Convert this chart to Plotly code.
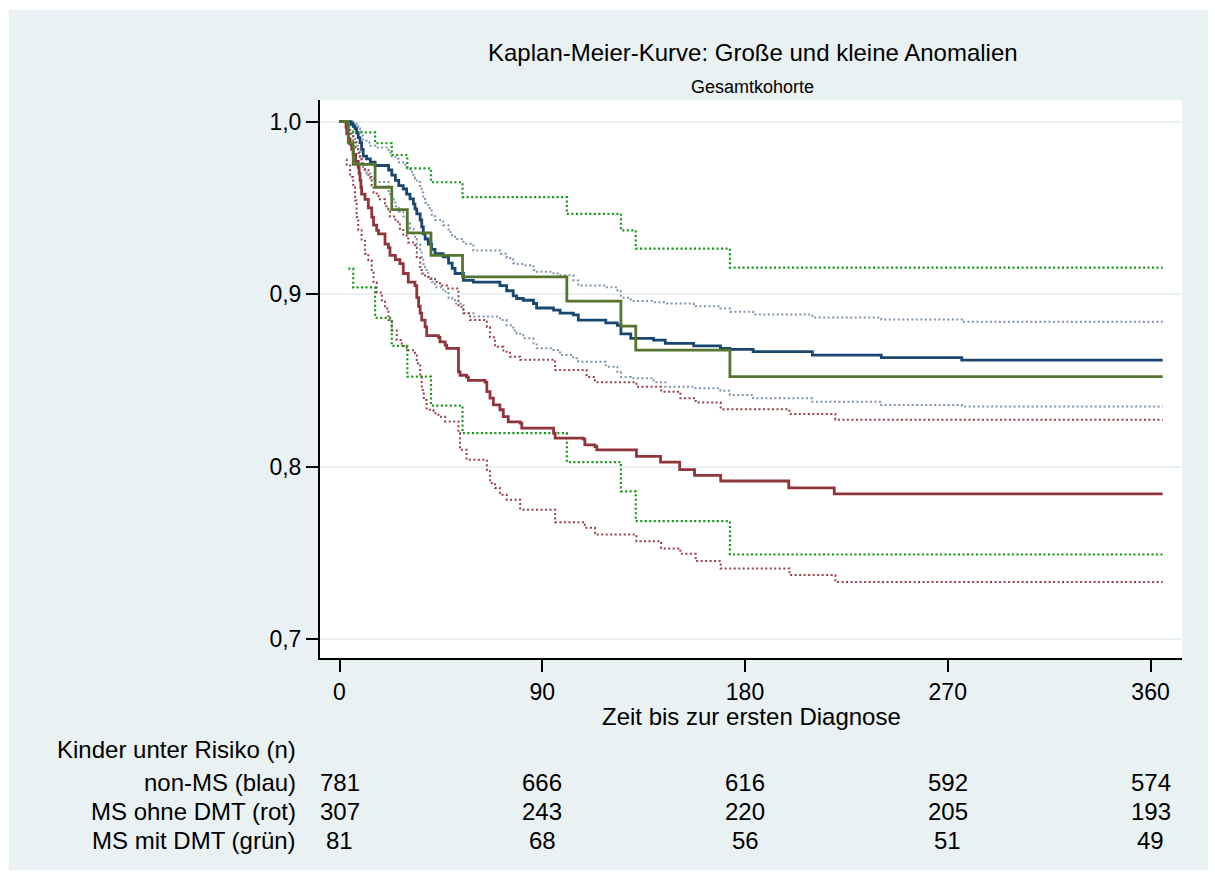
import plotly.graph_objects as go

# ---------------- data ----------------
title_text = "Kaplan-Meier-Kurve: Große und kleine Anomalien"
subtitle_text = "Gesamtkohorte"
x_title = "Zeit bis zur ersten Diagnose"

x_ticks = [0, 90, 180, 270, 360]
y_ticks = [0.7, 0.8, 0.9, 1.0]
y_ticklabels = ["0,7", "0,8", "0,9", "1,0"]

# non-MS (blau)
blue_t = [0, 5.2, 6.1, 6.9, 7.6, 8.3, 9.1, 9.8, 10.5, 12.0, 13.7, 15.8, 21.8, 23.2, 24.8, 26.3,
          28.3, 29.8, 31.3, 32.8, 33.5, 34.3, 35.8, 36.5, 37.2, 38.0, 39.4, 40.9, 42.4, 46.0,
          48.4, 50.0, 51.3, 55.0, 59.4, 71.2, 74.2, 77.1, 78.6, 81.6, 86.1, 87.5, 95.0, 97.9,
          103.8, 106.0, 118.2, 123.3, 124.9, 129.3, 139.4, 144.6, 157.2, 169.1, 173.3, 183.6,
          209.9, 240.5, 276.2, 365.4]
blue_s = [1.0, 0.9987, 0.9974, 0.996, 0.9936, 0.9908, 0.9879, 0.984, 0.980, 0.9784, 0.9765,
          0.9746, 0.972, 0.969, 0.966, 0.963, 0.961, 0.958, 0.9553, 0.9524, 0.9495, 0.9466,
          0.943, 0.939, 0.935, 0.932, 0.929, 0.926, 0.9235, 0.9216, 0.918, 0.915, 0.912, 0.908,
          0.907, 0.905, 0.902, 0.899, 0.8975, 0.8965, 0.8946, 0.892, 0.8908, 0.889, 0.888,
          0.885, 0.8834, 0.882, 0.877, 0.8744, 0.8734, 0.8715, 0.870, 0.8686, 0.868, 0.8667,
          0.8647, 0.8632, 0.8618, 0.8618]
blue_up_t = [0, 5.2, 6.1, 6.9, 7.6, 8.3, 9.1, 9.8, 10.5, 12.0, 13.7, 15.8, 21.8, 23.2, 24.8,
             26.3, 28.3, 29.8, 31.3, 32.8, 33.5, 34.3, 35.8, 36.5, 37.2, 38.0, 39.4, 40.9, 42.4,
             46.0, 48.4, 50.0, 51.3, 55.0, 59.4, 71.2, 74.2, 77.1, 78.6, 81.6, 86.1, 87.5, 95.0,
             97.9, 103.8, 106.0, 118.2, 123.3, 124.9, 129.3, 139.4, 144.6, 157.2, 169.1, 173.3,
             183.6, 209.9, 240.5, 276.2, 365.4]
blue_up_s = [1.0, 0.9999, 0.9995, 0.9988, 0.9975, 0.996, 0.9945, 0.992, 0.989, 0.988, 0.986,
             0.985, 0.982, 0.980, 0.9785, 0.9765, 0.975, 0.9736, 0.971, 0.969, 0.967, 0.965,
             0.962, 0.959, 0.956, 0.953, 0.950, 0.946, 0.943, 0.940, 0.936, 0.934, 0.932,
             0.9293, 0.9254, 0.9235, 0.921, 0.918, 0.9175, 0.9168, 0.914, 0.913, 0.912, 0.911,
             0.908, 0.905, 0.904, 0.9023, 0.898, 0.896, 0.8953, 0.8946, 0.893, 0.8917, 0.8898,
             0.8883, 0.8865, 0.8854, 0.884, 0.884]
blue_lo_t = [5.2, 6.1, 6.9, 7.6, 8.3, 9.1, 9.8, 10.5, 12.0, 13.7, 15.8, 21.8, 23.2, 24.8, 26.3,
             28.3, 29.8, 31.3, 32.8, 33.5, 34.3, 35.8, 36.5, 37.2, 38.0, 39.4, 40.9, 42.4, 46.0,
             48.4, 50.0, 51.3, 55.0, 59.4, 71.2, 74.2, 77.1, 78.6, 81.6, 86.1, 87.5, 95.0, 97.9,
             103.8, 106.0, 118.2, 123.3, 124.9, 129.3, 139.4, 144.6, 157.2, 169.1, 173.3, 183.6,
             209.9, 240.5, 276.2, 365.4]
blue_lo_s = [0.9935, 0.991, 0.989, 0.986, 0.983, 0.9795, 0.976, 0.972, 0.970, 0.967, 0.965,
             0.958, 0.955, 0.951, 0.948, 0.945, 0.942, 0.938, 0.935, 0.932, 0.929, 0.925,
             0.9216, 0.9175, 0.914, 0.910, 0.907, 0.904, 0.9015, 0.898, 0.8965, 0.8946, 0.889,
             0.887, 0.885, 0.882, 0.879, 0.877, 0.8744, 0.8715, 0.8686, 0.8676, 0.8647, 0.8628,
             0.8609, 0.858, 0.855, 0.852, 0.8513, 0.849, 0.8464, 0.8455, 0.844, 0.8416, 0.8397,
             0.8377, 0.8358, 0.8349, 0.8349]

# MS ohne DMT (rot)
red_t = [0, 2.9, 3.2, 4.0, 4.7, 5.4, 6.1, 7.2, 8.3, 8.7, 9.1, 9.5, 9.8, 11.3, 12.8, 14.3, 15.1,
         16.5, 17.3, 20.2, 21.7, 22.4, 24.8, 26.8, 28.3, 30.5, 33.5, 34.3, 35.1, 35.8, 36.5,
         38.0, 38.7, 43.9, 44.6, 46.9, 47.6, 52.8, 53.5, 56.4, 57.2, 64.6, 65.4, 66.8, 68.3,
         71.2, 72.7, 74.9, 80.2, 80.9, 95.0, 95.7, 108.2, 108.9, 113.4, 114.2, 131.8, 142.5,
         151.0, 157.6, 169.2, 199.4, 219.6, 365.4]
red_s = [1.0, 0.9967, 0.9929, 0.990, 0.987, 0.984, 0.981, 0.977, 0.9736, 0.970, 0.966, 0.962,
         0.958, 0.955, 0.950, 0.9447, 0.940, 0.937, 0.935, 0.929, 0.927, 0.9225, 0.920, 0.9177,
         0.912, 0.907, 0.905, 0.898, 0.893, 0.889, 0.885, 0.881, 0.876, 0.875, 0.8724, 0.8705,
         0.8686, 0.855, 0.853, 0.852, 0.850, 0.849, 0.8435, 0.8397, 0.8358, 0.833, 0.829,
         0.826, 0.8253, 0.8224, 0.8195, 0.8166, 0.816, 0.8127, 0.8117, 0.8098, 0.806, 0.8027,
         0.7983, 0.795, 0.7917, 0.7877, 0.7842, 0.7842]
red_up_t = [0, 3.2, 4.0, 4.7, 6.1, 7.2, 8.3, 9.1, 9.8, 11.3, 12.8, 14.3, 15.1, 16.5, 17.3, 20.2,
            21.7, 22.4, 24.8, 26.8, 28.3, 30.5, 33.5, 34.3, 35.8, 36.5, 38.0, 40.2, 42.4, 44.6,
            47.6, 52.8, 55.0, 57.9, 65.4, 66.8, 69.0, 72.7, 75.7, 80.2, 95.7, 109.7, 113.4,
            131.8, 142.8, 151.3, 158.1, 169.2, 199.7, 220.1, 365.4]
red_up_s = [1.0, 0.999, 0.996, 0.993, 0.988, 0.985, 0.982, 0.979, 0.975, 0.972, 0.968, 0.963,
            0.959, 0.957, 0.955, 0.951, 0.949, 0.945, 0.942, 0.938, 0.934, 0.930, 0.927, 0.921,
            0.915, 0.912, 0.910, 0.909, 0.907, 0.905, 0.9033, 0.8927, 0.889, 0.885, 0.881,
            0.875, 0.8695, 0.8667, 0.8638, 0.862, 0.856, 0.852, 0.849, 0.8464, 0.8435, 0.8397,
            0.8372, 0.8333, 0.8306, 0.8272, 0.8272]
red_lo_t = [2.9, 3.2, 4.7, 6.1, 6.9, 7.6, 8.3, 9.8, 11.3, 12.8, 14.3, 15.1, 16.5, 18.8, 20.2,
            21.7, 23.2, 25.4, 27.6, 29.8, 33.5, 34.3, 35.8, 36.5, 37.4, 38.7, 41.7, 43.9, 46.9,
            52.8, 53.5, 56.4, 65.4, 66.8, 69.0, 71.2, 74.2, 80.2, 95.7, 108.9, 113.4, 131.8,
            142.8, 151.3, 158.1, 169.2, 199.7, 220.1, 365.4]
red_lo_s = [0.978, 0.9746, 0.968, 0.962, 0.9543, 0.9447, 0.937, 0.931, 0.9235, 0.9197, 0.914,
            0.907, 0.901, 0.8965, 0.8917, 0.885, 0.879, 0.8734, 0.870, 0.8675, 0.8657, 0.860,
            0.8522, 0.8445, 0.8387, 0.833, 0.831, 0.829, 0.8262, 0.8195, 0.8098, 0.804, 0.7983,
            0.7906, 0.7877, 0.7838, 0.7809, 0.7751, 0.7678, 0.7646, 0.7607, 0.7568, 0.7526,
            0.7495, 0.7453, 0.741, 0.7372, 0.7331, 0.7331]

# MS mit DMT (grün)
green_t = [0, 3.9, 6.1, 15.8, 23.2, 30.1, 40.6, 54.6, 100.9, 124.9, 131.5, 173.3, 365.4]
green_s = [1.0, 0.9877, 0.9753, 0.962, 0.949, 0.9356, 0.9225, 0.910, 0.896, 0.8815, 0.8676,
           0.8522, 0.8522]
green_up_t = [0, 3.9, 6.1, 15.8, 23.2, 30.1, 40.6, 54.6, 100.9, 124.9, 131.5, 173.3, 365.4]
green_up_s = [1.0, 0.998, 0.9938, 0.9875, 0.9807, 0.973, 0.9649, 0.9563, 0.9466, 0.937, 0.9264,
              0.9154, 0.9154]
green_lo_t = [3.9, 6.1, 15.8, 23.2, 30.1, 40.6, 54.6, 100.9, 124.9, 131.5, 173.3, 365.4]
green_lo_s = [0.9148, 0.9039, 0.8863, 0.870, 0.8522, 0.8354, 0.8195, 0.8027, 0.7857, 0.7684,
              0.7491, 0.7491]

# Number at risk
risk_header = "Kinder unter Risiko (n)"
risk_labels = ["non-MS (blau)", "MS ohne DMT (rot)", "MS mit DMT (grün)"]
risk_times = [0, 90, 180, 270, 360]
risk_blue = [781, 666, 616, 592, 574]
risk_red = [307, 243, 220, 205, 193]
risk_green = [81, 68, 56, 51, 49]

# ---------------- styling ----------------
FONT = "Liberation Sans, Arial, sans-serif"
BG = "#e9f1f3"
NAVY = "#1a476f"
MAROON = "#90353b"
FOREST = "#55752f"
CI_BLUE = "#7f94b0"
CI_RED = "#983f47"
CI_GREEN = "#109810"

fig = go.Figure()

def add_line(t, s, color, width, dash):
    fig.add_trace(go.Scatter(x=t, y=s, mode="lines", line_shape="hv",
                             line=dict(color=color, width=width, dash=dash),
                             hoverinfo="skip", showlegend=False))

ci_dash = "2px,2.5px"
add_line(blue_up_t, blue_up_s, CI_BLUE, 2, ci_dash)
add_line(blue_lo_t, blue_lo_s, CI_BLUE, 2, ci_dash)
add_line(red_up_t, red_up_s, CI_RED, 2, ci_dash)
add_line(red_lo_t, red_lo_s, CI_RED, 2, ci_dash)
add_line(green_up_t, green_up_s, CI_GREEN, 2.2, ci_dash)
add_line(green_lo_t, green_lo_s, CI_GREEN, 2.2, ci_dash)
add_line(blue_t, blue_s, NAVY, 2.8, "solid")
add_line(red_t, red_s, MAROON, 2.8, "solid")
add_line(green_t, green_s, FOREST, 2.8, "solid")

W, H = 1215, 878
ML, MR, MT, MB = 320, 33, 100, 220
PW, PH = W - ML - MR, H - MT - MB

def px_x(p):
    return (p - ML) / PW

def px_y(p):
    return (H - MB - p) / PH

# outer light background box, then white plot region on top of it
fig.add_shape(type="rect", xref="paper", yref="paper", layer="below",
              x0=px_x(9), x1=px_x(1208), y0=px_y(870), y1=px_y(10),
              fillcolor=BG, line=dict(width=0))
fig.add_shape(type="rect", xref="paper", yref="paper", layer="below",
              x0=0, x1=1, y0=0, y1=1,
              fillcolor="white", line=dict(width=0))

annotations = []
annotations.append(dict(text=title_text, xref="paper", yref="paper", x=px_x(753), y=px_y(53),
                        showarrow=False, xanchor="center", yanchor="middle",
                        font=dict(family=FONT, size=24, color="black")))
annotations.append(dict(text=subtitle_text, xref="paper", yref="paper", x=px_x(752), y=px_y(87),
                        showarrow=False, xanchor="center", yanchor="middle",
                        font=dict(family=FONT, size=18, color="black")))
annotations.append(dict(text=x_title, xref="paper", yref="paper", x=px_x(751), y=px_y(716),
                        showarrow=False, xanchor="center", yanchor="middle",
                        font=dict(family=FONT, size=24, color="black")))
annotations.append(dict(text=risk_header, xref="paper", yref="paper", x=px_x(298), y=px_y(749),
                        showarrow=False, xanchor="right", yanchor="middle",
                        font=dict(family=FONT, size=24, color="black")))
row_y = [782, 811, 840]
for lab, vals, py in zip(risk_labels, [risk_blue, risk_red, risk_green], row_y):
    annotations.append(dict(text=lab, xref="paper", yref="paper", x=px_x(298), y=px_y(py),
                            showarrow=False, xanchor="right", yanchor="middle",
                            font=dict(family=FONT, size=24, color="black")))
    for t, v in zip(risk_times, vals):
        annotations.append(dict(text=str(v), xref="x", yref="paper", x=t, y=px_y(py),
                                showarrow=False, xanchor="center", yanchor="middle",
                                font=dict(family=FONT, size=24, color="black")))

fig.update_layout(
    width=W, height=H,
    margin=dict(l=ML, r=MR, t=MT, b=MB, pad=0),
    paper_bgcolor="white",
    plot_bgcolor="white",
    showlegend=False,
    annotations=annotations,
    font=dict(family=FONT, color="black"),
)
fig.update_xaxes(range=[-8.66, 373.97], tickvals=x_ticks, ticktext=[str(v) for v in x_ticks],
                 showgrid=False, zeroline=False, showline=True, linecolor="black", linewidth=2,
                 ticks="outside", ticklen=12, tickwidth=2, tickcolor="black",
                 tickfont=dict(family=FONT, size=23, color="black"))
fig.update_yaxes(range=[0.6891, 1.01258], tickvals=y_ticks, ticktext=y_ticklabels,
                 showgrid=True, gridcolor=BG, gridwidth=2, zeroline=False,
                 showline=True, linecolor="black", linewidth=2,
                 ticks="outside", ticklen=12, tickwidth=2, tickcolor="black",
                 tickfont=dict(family=FONT, size=23, color="black"))

fig.write_html("out.html")
